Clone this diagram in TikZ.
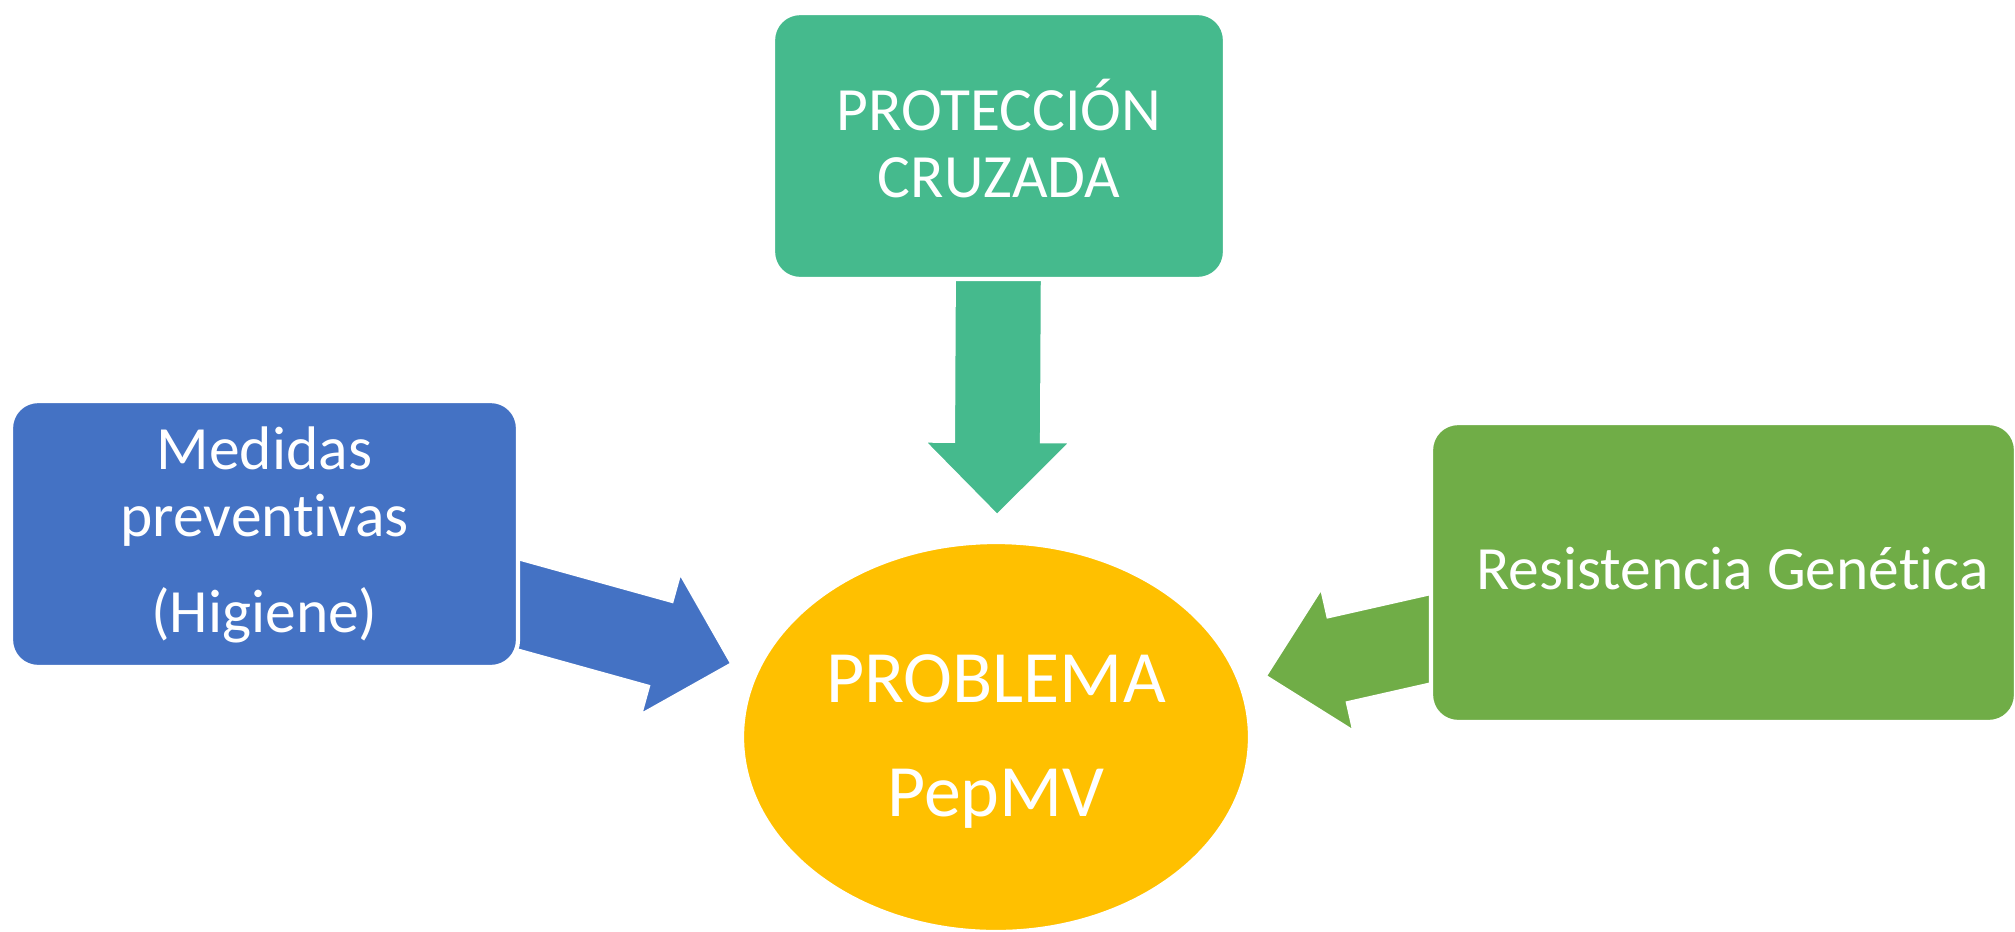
\documentclass[tikz,border=0pt]{standalone}
\usepackage{fontspec}
\setmainfont{Carlito}[Ligatures=NoCommon]
\usetikzlibrary{calc,shapes.geometric,backgrounds}
\definecolor{cprot}{RGB}{69,186,141}
\definecolor{cmed}{RGB}{68,114,196}
\definecolor{cres}{RGB}{112,173,71}
\definecolor{cprob}{RGB}{255,192,0}
\tikzset{
  box/.style={rectangle, rounded corners=0.27cm, draw=white, line width=1.2pt,
    text=white, align=center, inner sep=0pt, text depth=0pt,
    font=\fontsize{17.5}{18.8}\selectfont},
}
% block arrow from a box towards the target node
\newcommand{\blockarrow}[3]{%
  \path (#1) -- (#2) coordinate[pos=1] (aend);
  \coordinate (tip) at ($(aend)!0.27cm!(#1)$);
  \coordinate (neck) at ($(tip)!0.73cm!(#1)$);
  \fill[#3, draw=white, line width=0.6pt]
    ($(#1.center)!0.435cm!90:(tip)$) -- ($(neck)!0.435cm!90:(tip)$)
    -- ($(neck)!0.725cm!90:(tip)$) -- (tip) -- ($(neck)!0.725cm!-90:(tip)$)
    -- ($(neck)!0.435cm!-90:(tip)$) -- ($(#1.center)!0.435cm!-90:(tip)$) -- cycle;
}
\begin{document}
\begin{tikzpicture}
    \useasboundingbox (0,0) rectangle (20.15,9.31);
    \clip (0,0) rectangle (20.15,9.31);
    % Define the boxes
    \node[box, fill=cprot, minimum width=4.52cm, minimum height=2.66cm, text height=1.02cm]
        (prot) at (9.99,7.85) {PROTECCIÓN\\CRUZADA};
    \node[box, fill=cmed, minimum width=5.07cm, minimum height=2.66cm, text height=1.96cm]
        (med) at (2.645,3.97) {Medidas\\preventivas\\[8.5pt](Higiene)};
    \node[box, fill=cres, minimum width=5.85cm, minimum height=2.99cm, text height=0.34cm]
        (res) at (17.235,3.585) {\hspace*{0.18cm}Resistencia Genética};
    \node[ellipse, fill=cprob, draw=white, line width=1.2pt, minimum width=5.08cm,
        minimum height=3.9cm, inner sep=0pt, outer sep=0pt, text=white, align=center,
        font=\fontsize{21}{32.4}\selectfont, text height=1.58cm, text depth=0pt]
        (prob) at (9.96,1.94) {PROBLEMA\\PepMV};
    % Add arrows
    \begin{scope}[on background layer]
        \foreach \src/\col in {prot/cprot, med/cmed, res/cres}
            \blockarrow{\src}{prob}{\col};
    \end{scope}
\end{tikzpicture}
\end{document}
